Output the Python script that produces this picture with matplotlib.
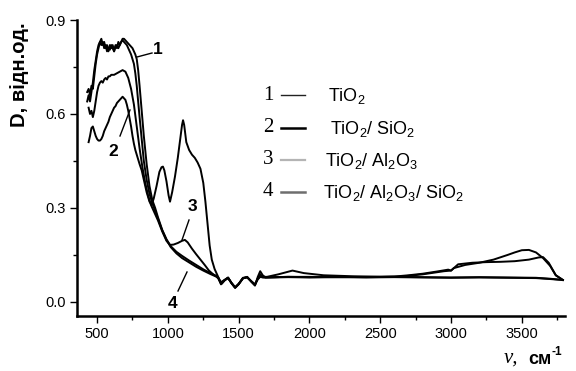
import matplotlib
matplotlib.use("Agg")
import matplotlib.pyplot as plt
from matplotlib.lines import Line2D
from matplotlib.ticker import MultipleLocator

plt.rcParams['font.family'] = ['Liberation Sans', 'DejaVu Sans']
plt.rcParams['mathtext.fontset'] = 'custom'
plt.rcParams['mathtext.rm'] = 'Liberation Sans'
plt.rcParams['mathtext.it'] = 'Liberation Sans:italic'
plt.rcParams['mathtext.bf'] = 'Liberation Sans:bold'

# ---- data ----
x1 = [430,440,450,460,470,480,490,500,510,520,530,540,550,560,570,580,590,600,610,620,
      630,640,650,660,670,680,690,700,710,720,730,740,750,760,770,780,790,800,
      815,830,850,870,890,910,930,960,990,1020,
      1060,1100,1150,1200,1250,1300,1340,1360,1375,
      1400,1425,1450,1475,1500,1530,1560,1590,1615,1635,1652,1670,1690,
      1750,1850,2000,2200,2400,2600,2800,3000,3200,3400,3600,3700,3790]
y1 = [0.64,0.66,0.64,0.67,0.70,0.74,0.77,0.80,0.82,0.83,
      0.84,0.82,0.83,0.81,0.82,0.80,0.82,0.81,0.82,0.80,
      0.82,0.81,0.83,0.82,0.83,0.84,0.84,0.835,0.83,0.825,
      0.82,0.815,0.81,0.80,0.79,0.775,0.74,0.69,
      0.61,0.53,0.44,0.37,0.325,0.30,0.27,0.23,0.20,0.178,
      0.16,0.147,0.132,0.118,0.104,0.092,0.083,0.075,0.058,
      0.07,0.076,0.06,0.047,0.058,0.076,0.078,0.066,0.056,0.072,0.08,0.078,0.078,
      0.079,0.08,0.079,0.08,0.079,0.08,0.079,0.078,0.079,0.078,0.077,0.074,0.07]

x2 = [440,450,460,470,480,490,500,510,520,530,540,550,560,570,580,590,600,610,620,630,
      640,650,660,670,680,690,700,710,720,730,740,750,760,770,780,790,800,
      815,830,850,870,885,900,920,940,955,965,975,990,1005,1015,1030,1050,1070,1090,1100,
      1107,1115,1130,1150,1170,1190,1210,1230,1250,1265,1280,1295,1310,1330,1350,1365,1380,
      1400,1425,1450,1475,1500,1530,1560,1590,1615,1635,1652,1670,1690,
      1750,1850,2000,2200,2400,2600,2700,2800,2900,2980,3000,3020,3100,3200,3300,3400,
      3450,3500,3550,3600,3650,3700,3740,3790]
y2 = [0.51,0.53,0.555,0.56,0.545,0.53,0.52,0.515,0.515,0.52,
      0.53,0.545,0.555,0.565,0.575,0.59,0.60,0.61,0.62,0.625,
      0.635,0.64,0.645,0.65,0.655,0.65,0.645,0.63,0.61,0.585,
      0.56,0.53,0.505,0.485,0.47,0.455,0.44,
      0.42,0.39,0.35,0.32,0.31,0.33,0.37,0.415,0.43,0.432,
      0.42,0.385,0.34,0.32,0.35,0.40,0.46,0.53,0.565,0.58,
      0.565,0.51,0.485,0.47,0.46,0.445,0.425,0.38,0.32,0.25,
      0.18,0.135,0.105,0.085,0.07,0.058,
      0.068,0.077,0.06,0.045,0.056,0.075,0.08,0.064,0.052,0.08,0.098,0.085,0.078,
      0.079,0.08,0.08,0.079,0.08,0.081,0.085,0.09,0.097,0.103,
      0.1,0.108,0.118,0.125,0.135,0.15,0.158,0.165,0.166,0.158,
      0.14,0.115,0.085,0.07]

x3 = [440,450,460,470,480,490,500,510,520,530,540,550,560,570,580,590,600,
      620,640,660,680,700,720,740,760,780,800,820,840,860,880,900,
      930,960,990,1015,1040,1070,1100,1120,1140,1170,1200,1230,1260,1290,1320,1350,1370,
      1400,1425,1450,1475,1500,1530,1560,1590,1615,1635,1652,1670,1700,
      1780,1880,1960,2100,2300,2500,2650,2800,2950,3000,3050,3150,3250,3350,3450,3550,
      3620,3650,3690,3740,3790]
y3 = [0.62,0.60,0.61,0.59,0.61,0.64,0.67,0.69,0.70,0.705,0.70,0.71,0.715,0.71,0.72,0.72,0.725,
      0.725,0.73,0.735,0.74,0.735,0.715,0.68,0.63,0.56,0.49,0.43,0.38,0.34,0.31,0.29,
      0.26,0.225,0.195,0.182,0.183,0.188,0.195,0.198,0.19,0.17,0.152,0.135,0.118,0.1,0.088,0.08,0.062,
      0.07,0.078,0.06,0.046,0.057,0.077,0.079,0.065,0.055,0.075,0.088,0.08,0.08,
      0.088,0.1,0.092,0.085,0.082,0.08,0.081,0.088,0.098,0.1,0.12,0.125,0.127,0.128,0.13,0.135,
      0.142,0.143,0.125,0.085,0.07]

x4 = list(x1)
y4 = [0.67,0.68,0.66,0.69,0.68,0.72,0.76,0.79,0.81,0.83,
      0.82,0.83,0.81,0.82,0.80,0.81,0.805,0.82,0.81,0.80,
      0.815,0.82,0.81,0.82,0.83,0.835,0.83,0.825,0.82,0.81,
      0.80,0.79,0.775,0.76,0.73,0.69,0.64,0.59,
      0.52,0.45,0.39,0.345,0.315,0.29,0.265,0.228,0.198,0.175,
      0.155,0.14,0.126,0.112,0.1,0.089,0.081,0.074,0.056,
      0.069,0.077,0.059,0.045,0.057,0.075,0.079,0.065,0.054,0.074,0.082,0.079,0.078,
      0.078,0.079,0.078,0.079,0.078,0.079,0.078,0.077,0.078,0.077,0.076,0.073,0.07]

series_x = [x1, x2, x3, x4]
series_y = [y1, y2, y3, y4]
numbers = ['1', '2', '3', '4']
names = ['TiO$_2$', 'TiO$_2$/ SiO$_2$', 'TiO$_2$/ Al$_2$O$_3$', 'TiO$_2$/ Al$_2$O$_3$/ SiO$_2$']
legend_colors = ['#222222', '#000000', '#b4b4b4', '#6e6e6e']
legend_widths = [1.0, 1.8, 1.6, 1.8]
xticks = [500, 1000, 1500, 2000, 2500, 3000, 3500]
yticks = [0.0, 0.3, 0.6, 0.9]

# ---- figure ----
W, H = 576, 371
fig = plt.figure(figsize=(W / 100, H / 100), dpi=100)
ax = fig.add_axes([77 / W, 1 - 316 / H, (565 - 77) / W, (316 - 20) / H])

for xs, ys in zip(series_x, series_y):
    ax.plot(xs, ys, color='black', lw=1.4, solid_joinstyle='round')

ax.set_xlim(358, 3805)
ax.set_ylim(-0.045, 0.9)
ax.set_xticks(xticks)
ax.set_yticks(yticks)
ax.set_yticklabels([f'{v:.1f}' for v in yticks])
ax.xaxis.set_minor_locator(MultipleLocator(250))
ax.yaxis.set_minor_locator(MultipleLocator(0.15))
for s in ['top', 'right']:
    ax.spines[s].set_visible(False)
for s in ['left', 'bottom']:
    ax.spines[s].set_linewidth(1.8)
ax.tick_params(which='major', direction='out', length=5, width=1.0, labelsize=10.5, pad=3)
ax.tick_params(which='minor', direction='out', length=3, width=1.0)


def fx(px):
    return px / W


def fy(py):
    return 1 - py / H


# y label
fig.text(fx(20), fy(75), 'D, відн.од.', rotation=90, fontsize=14.5, fontweight='bold',
         ha='center', va='center')
# x label
fig.text(fx(511), fy(358), 'ν,', fontsize=15, family='Liberation Serif', style='italic',
         ha='center', va='center')
fig.text(fx(540), fy(359), 'см', fontsize=13, fontweight='bold', ha='center', va='center')
fig.text(fx(557), fy(352), '-1', fontsize=8.5, fontweight='bold', ha='center', va='center')

# legend
rows = [95, 128, 160, 192]
label_x = [328, 330, 325, 323]
for i in range(4):
    fig.text(fx(268), fy(rows[i]), numbers[i], fontsize=15, family='Liberation Serif',
             ha='center', va='center')
    fig.add_artist(Line2D([fx(281), fx(305)], [fy(rows[i]), fy(rows[i])],
                          color=legend_colors[i], lw=legend_widths[i]))
    fig.text(fx(label_x[i]), fy(rows[i] + 1), names[i], fontsize=13, ha='left', va='center')

# curve labels with leader lines
curve_labels = [('1', (158, 49), (152, 53), (137, 57)),
                ('2', (113, 151), (120, 136), (130, 110)),
                ('3', (192, 207), (189, 220), (182, 240)),
                ('4', (173, 303), (178, 291), (187, 272))]
for txt, tp, a, b in curve_labels:
    fig.text(fx(tp[0]), fy(tp[1]), txt, fontsize=12.5, fontweight='bold', ha='center', va='center')
    fig.add_artist(Line2D([fx(a[0]), fx(b[0])], [fy(a[1]), fy(b[1])], color='black', lw=1.0))

fig.savefig('out.png', dpi=100)
